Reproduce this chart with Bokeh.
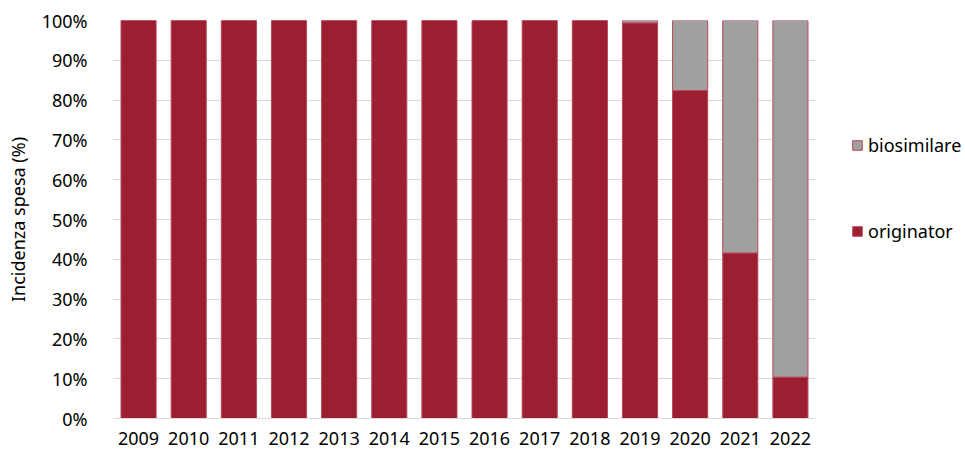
from bokeh.plotting import figure
from bokeh.models import FactorRange, Range1d, PrintfTickFormatter, Legend, LegendItem, FixedTicker, ColumnDataSource
from bokeh.embed import file_html
from bokeh.resources import INLINE

years = ["2009", "2010", "2011", "2012", "2013", "2014", "2015", "2016", "2017", "2018", "2019", "2020", "2021", "2022"]
originator = [100, 100, 100, 100, 100, 100, 100, 100, 100, 100, 99.4, 82.4, 41.6, 10.4]
biosimilare = [0, 0, 0, 0, 0, 0, 0, 0, 0, 0, 0.6, 17.6, 58.4, 89.6]
y_ticks = [0, 10, 20, 30, 40, 50, 60, 70, 80, 90, 100]

FONT = "Noto Sans"
RED = "#9B1F31"
GRAY = "#A0A0A0"
EDGE = "#B9485A"

src = ColumnDataSource(dict(year=years, originator=originator, biosimilare=biosimilare))

p = figure(x_range=FactorRange(*years, range_padding=0), y_range=Range1d(0, 100),
           frame_width=702, frame_height=398,
           min_border_left=113, min_border_right=146, min_border_top=20, min_border_bottom=35,
           output_backend="svg", toolbar_location=None)
p.outline_line_color = None

r = p.vbar_stack(["originator", "biosimilare"], x="year", width=0.7, source=src,
                 fill_color=[RED, GRAY], line_color=EDGE, line_width=1)

p.xgrid.grid_line_color = None
p.ygrid.grid_line_color = "#D9D9D9"
p.ygrid.grid_line_width = 1
p.yaxis.ticker = FixedTicker(ticks=y_ticks)
p.yaxis.formatter = PrintfTickFormatter(format="%d%%")

for ax in (p.xaxis, p.yaxis):
    ax.major_tick_line_color = None
    ax.minor_tick_line_color = None
    ax.major_label_text_font = FONT
    ax.major_label_text_font_size = "18px"
    ax.major_label_text_color = "#000000"
p.yaxis.axis_line_color = None
p.xaxis.axis_line_color = "#D9D9D9"
p.yaxis.major_label_standoff = 20
p.xaxis.major_label_standoff = 7
p.yaxis.axis_label = "Incidenza spesa (%)"
p.yaxis.axis_label_text_font = FONT
p.yaxis.axis_label_text_font_size = "18px"
p.yaxis.axis_label_text_font_style = "normal"
p.yaxis.axis_label_text_color = "#000000"
p.yaxis.axis_label_standoff = 9

legend = Legend(items=[LegendItem(label="biosimilare", renderers=[r[1]]),
                       LegendItem(label="originator", renderers=[r[0]])],
                location=(36, 175), orientation="vertical",
                glyph_width=12, glyph_height=12, label_standoff=5,
                spacing=62, padding=0, margin=0,
                label_text_font=FONT, label_text_font_size="18px", label_text_color="#000000",
                border_line_color=None, background_fill_alpha=0)
p.add_layout(legend, "right")

open("out.html", "w").write(file_html(p, INLINE))
